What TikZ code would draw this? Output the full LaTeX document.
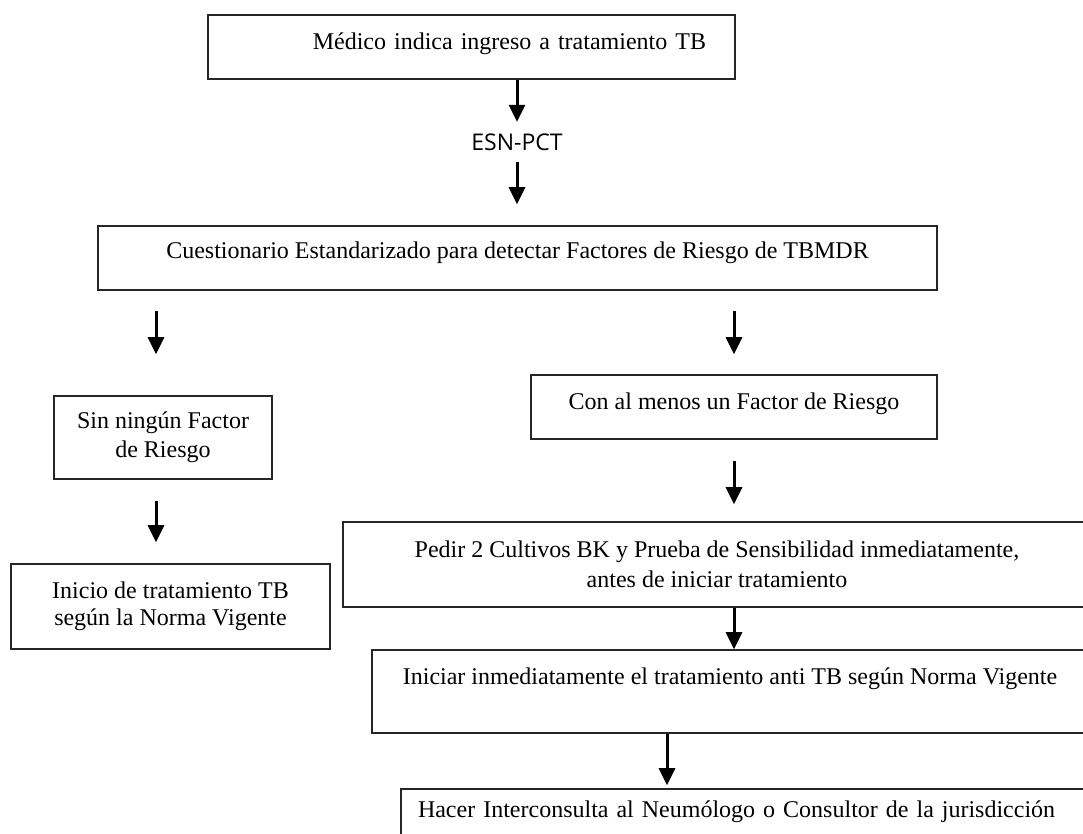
\documentclass[tikz,border=0pt]{standalone}
\usepackage{fontspec}
\setmainfont{Liberation Serif}
\newfontfamily\labelfont{Open Sans}
\usetikzlibrary{arrows.meta}

\tikzset{
  stepbox/.style={draw=black!85, line width=1.6pt, inner sep=0pt, align=center,
    font=\fontsize{24}{29}\selectfont},
  arr/.style={line width=3pt, -{Triangle[width=16pt,length=17pt]}},
}

\begin{document}
\begin{tikzpicture}[x=1pt,y=-1pt]
\useasboundingbox (0,0) rectangle (1083,833);
\clip (0,0) rectangle (1083,833);
% top of the chart
\node[stepbox, minimum width=527, minimum height=64, text width=469, inner xsep=29, align=right,
  text height=19pt, text depth=15pt] (medico) at (471.5,47) {Médico indica ingreso a tratamiento TB};
\node[font=\labelfont\fontsize{23}{28}\selectfont, inner sep=0pt, minimum height=40] (esn) at (517,142) {ESN-PCT};
\node[stepbox, minimum width=839, minimum height=64, text height=17pt, text depth=17pt] (cuest) at (517.5,258)
  {Cuestionario Estandarizado para detectar Factores de Riesgo de TBMDR};
% left branch
\node[stepbox, minimum width=218, minimum height=83] (sin) at (163,437.5) {Sin ningún Factor\\de Riesgo};
\node[stepbox, minimum width=319, minimum height=85, font=\fontsize{24}{27}\selectfont] (inicio) at (170.5,606.5)
  {Inicio de tratamiento TB\\según la Norma Vigente};
% right branch
\node[stepbox, minimum width=406, minimum height=64, text height=18pt, text depth=14pt] (menos) at (734,407)
  {Con al menos un Factor de Riesgo};
\node[stepbox, minimum width=748, minimum height=85, font=\fontsize{24}{30}\selectfont] (pedir) at (717,564.5)
  {Pedir 2 Cultivos BK y Prueba de Sensibilidad inmediatamente,\\antes de iniciar tratamiento};
\node[stepbox, minimum width=716, minimum height=83, text height=20pt, text depth=35pt] (iniciar) at (730,691.5)
  {Iniciar inmediatamente el tratamiento anti TB según Norma Vigente};
\node[stepbox, minimum width=699, minimum height=81, text width=665, inner xsep=17, align=left,
  text height=20pt, text depth=45pt] (hacer) at (750.5,829.5)
  {Hacer Interconsulta al Neumólogo o Consultor de la jurisdicción};
% arrow columns
\coordinate (lx) at (156,0);
\coordinate (hx) at (667,0);
\draw[arr] (medico.south -| esn) -- (esn.north);
\draw[arr, shorten >=21pt] (esn.south) -- (cuest.north -| esn);
\draw[arr, shorten <=20pt, shorten >=41pt] (cuest.south -| lx) -- (sin.north -| lx);
\draw[arr, shorten <=20pt, shorten >=20pt] (cuest.south -| menos) -- (menos.north);
\draw[arr, shorten <=21pt, shorten >=21pt] (sin.south -| lx) -- (inicio.north -| lx);
\draw[arr, shorten <=21pt, shorten >=17pt] (menos.south) -- (pedir.north -| menos);
\draw[arr] (pedir.south -| menos) -- (iniciar.north -| menos);
\draw[arr, shorten >=3pt] (iniciar.south -| hx) -- (hacer.north -| hx);
\end{tikzpicture}
\end{document}
